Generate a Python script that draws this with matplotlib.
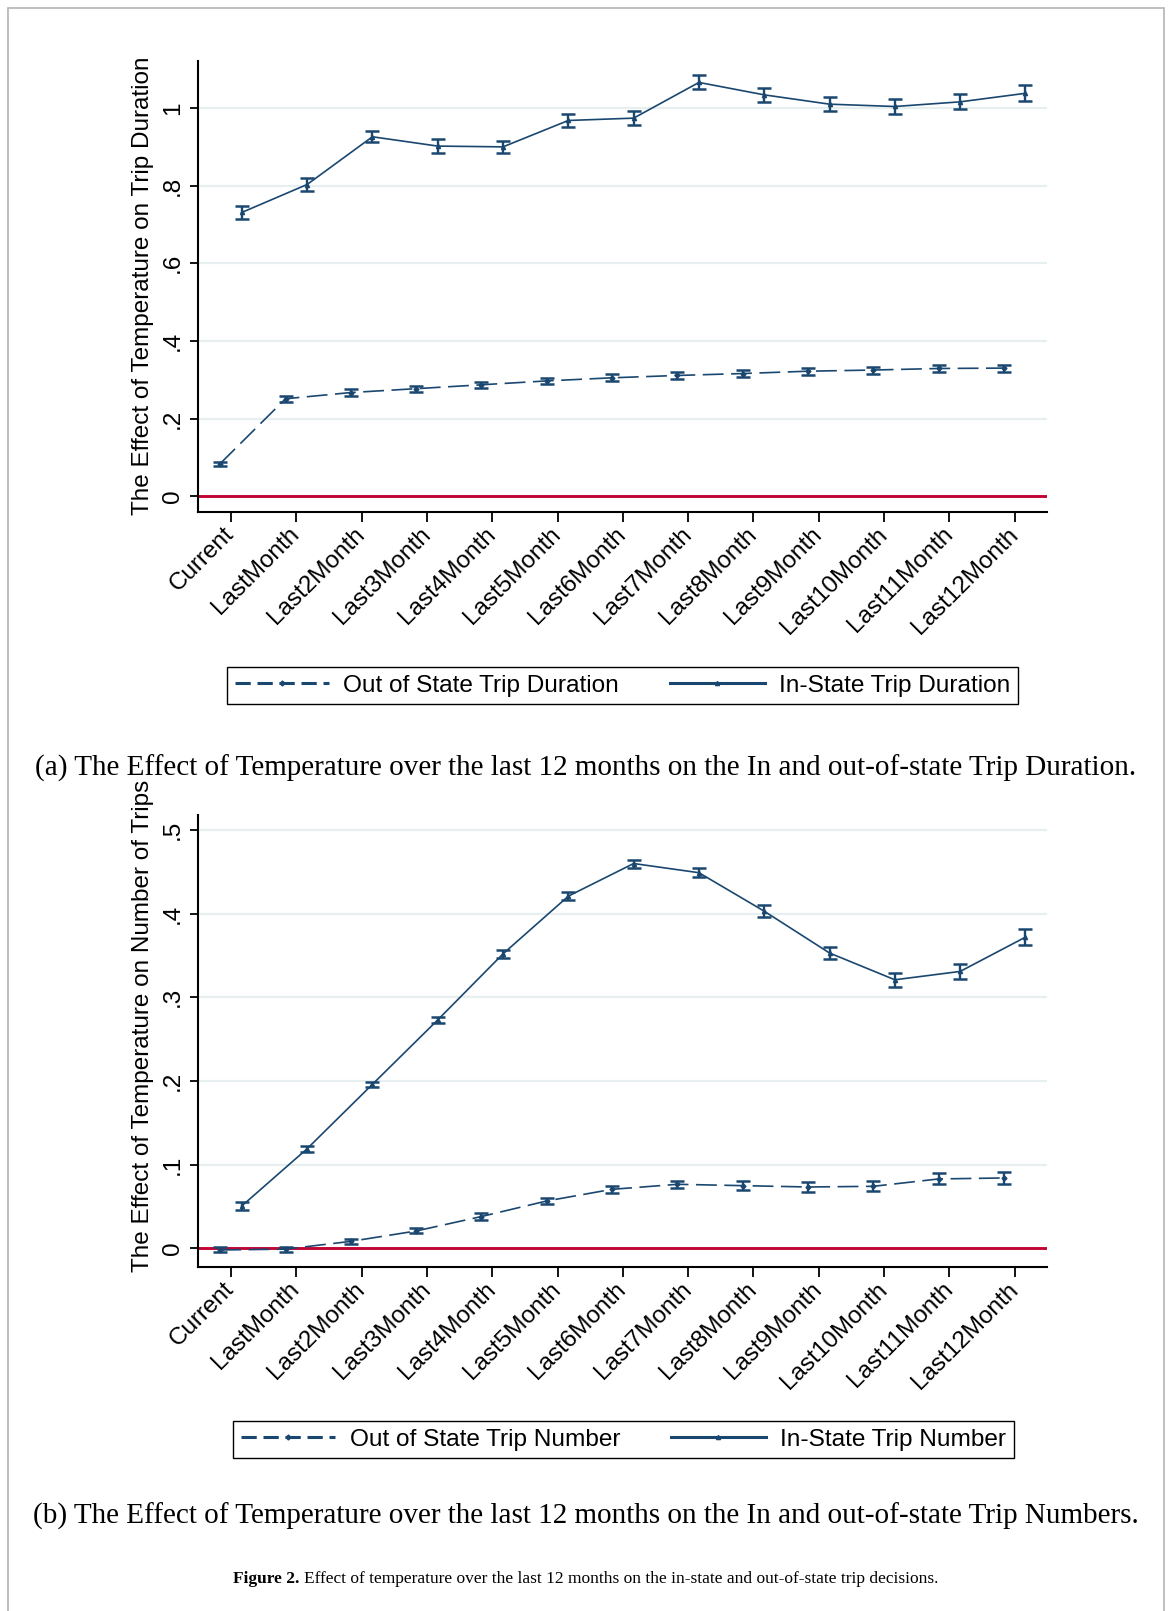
import matplotlib

matplotlib.use("Agg")
import matplotlib.pyplot as plt
import numpy as np
from matplotlib.lines import Line2D
from matplotlib.patches import Rectangle

# Lag labels shared by both panels
periods = [
    "Current", "LastMonth", "Last2Month", "Last3Month", "Last4Month",
    "Last5Month", "Last6Month", "Last7Month", "Last8Month", "Last9Month",
    "Last10Month", "Last11Month", "Last12Month",
]

# Panel (a): trip duration coefficients and CI half-widths
dur_out = [0.084, 0.251, 0.267, 0.277, 0.287, 0.297, 0.305,
           0.311, 0.316, 0.322, 0.325, 0.329, 0.330]
dur_out_ci = [0.005, 0.008, 0.008, 0.008, 0.008, 0.008, 0.0085,
              0.009, 0.009, 0.009, 0.009, 0.009, 0.009]
dur_in = [0.731, 0.803, 0.926, 0.902, 0.900, 0.968, 0.974,
          1.066, 1.034, 1.010, 1.004, 1.016, 1.038]
dur_in_ci = [0.017, 0.016, 0.014, 0.017, 0.015, 0.017, 0.018,
             0.018, 0.018, 0.018, 0.019, 0.019, 0.021]

# Panel (b): number of trips coefficients and CI half-widths
num_out = [-0.002, -0.001, 0.0083, 0.0207, 0.038, 0.0566, 0.0705,
           0.0765, 0.0749, 0.0733, 0.0741, 0.0829, 0.0841]
num_out_ci = [0.003, 0.003, 0.003, 0.003, 0.0038, 0.0038, 0.0044,
              0.004, 0.0052, 0.006, 0.006, 0.0066, 0.0068]
num_in = [0.0506, 0.119, 0.196, 0.273, 0.352, 0.421, 0.460,
          0.449, 0.403, 0.353, 0.321, 0.331, 0.372]
num_in_ci = [0.0045, 0.0036, 0.0034, 0.0038, 0.0044, 0.0048, 0.0048,
             0.0056, 0.007, 0.0076, 0.0084, 0.0094, 0.0094]

navy = "#1a476f"
red = "#c10534"
grid_col = "#e8eff1"
sans = ["Liberation Sans", "DejaVu Sans"]
serif = ["Liberation Serif", "DejaVu Serif"]
axis_fs = 17.5

W, H = 1171, 1611
fig = plt.figure(figsize=(W / 100, H / 100), dpi=100)

# light page border
fig.patches.append(Rectangle((8 / W, -0.01), (1164 - 8) / W, 1.01 - 8 / H,
                             transform=fig.transFigure, fill=False,
                             edgecolor="#b4b4b4", lw=1.2))

x = np.arange(1, len(periods) + 1)
shift = 0.165


def panel(ax, out_v, out_ci, in_v, in_ci, ylim, yticks, ylabel, label_y):
    ax.set_xlim(0.49, 13.49)
    ax.set_ylim(*ylim)
    for t in yticks[1:]:
        ax.axhline(t, color=grid_col, lw=1.6, zorder=0)
    ax.axhline(0, color=red, lw=2.1, zorder=1)
    ax.errorbar(x - shift, out_v, yerr=out_ci, color=navy, lw=1.2,
                ls=(0, (12.5, 4.5)), marker="D", ms=2.5, elinewidth=1.7,
                capsize=4.8, capthick=1.8, zorder=3)
    ax.errorbar(x + shift, in_v, yerr=in_ci, color=navy, lw=1.2,
                ls="-", marker="^", ms=3, elinewidth=1.7,
                capsize=4.8, capthick=1.8, zorder=3)

    for s in ("top", "right"):
        ax.spines[s].set_visible(False)
    for s in ("left", "bottom"):
        ax.spines[s].set_linewidth(1.5)
    ax.tick_params(axis="y", length=6, width=1.3, pad=4)
    ax.tick_params(axis="x", length=7, width=1.3, pad=7)

    ax.set_yticks(yticks)
    ax.set_yticklabels(["0"] + [f"{t:g}".lstrip("0") for t in yticks[1:]],
                       rotation=90, va="center", ha="right",
                       family=sans, fontsize=axis_fs)
    ax.set_xticks(x)
    ax.set_xticklabels(periods, rotation=45, ha="right", va="center",
                       rotation_mode="anchor", family=sans, fontsize=axis_fs)
    ax.set_ylabel(ylabel, family=sans, fontsize=axis_fs, va="center")
    ax.yaxis.set_label_coords(-0.0644, label_y)


ax1 = fig.add_axes([197.7 / W, 1 - 511.7 / H, 849 / W, 451 / H])
panel(ax1, dur_out, dur_out_ci, dur_in, dur_in_ci, (-0.04, 1.122),
      [0, 0.2, 0.4, 0.6, 0.8, 1.0],
      "The Effect of Temperature on Trip Duration", 0.5)

ax2 = fig.add_axes([197.7 / W, 1 - 1266.7 / H, 849 / W, 451.7 / H])
panel(ax2, num_out, num_out_ci, num_in, num_in_ci, (-0.022, 0.518),
      [0, 0.1, 0.2, 0.3, 0.4, 0.5],
      "The Effect of Temperature on Number of Trips", 0.533)


def legend_for(ax, names, cx, cy):
    handles = [
        Line2D([], [], color=navy, lw=2.2, ls=(0, (5, 2.2)), marker="D", ms=2.5),
        Line2D([], [], color=navy, lw=2.2, ls="-", marker="^", ms=3),
    ]
    leg = ax.legend(handles, names, ncol=2, loc="center",
                    bbox_to_anchor=(cx, cy), bbox_transform=fig.transFigure,
                    prop={"family": sans, "size": 17.6}, frameon=True,
                    fancybox=False, edgecolor="black", framealpha=1,
                    handlelength=3.85, handletextpad=0.6, columnspacing=2.1,
                    borderpad=0.3, numpoints=1)
    leg.get_frame().set_linewidth(1.0)


legend_for(ax1, ["Out of State Trip Duration", "In-State Trip Duration"],
           622.5 / W, 1 - 685.5 / H)
legend_for(ax2, ["Out of State Trip Number", "In-State Trip Number"],
           623.5 / W, 1 - 1439.5 / H)

fig.text(0.5, 1 - 768 / H,
         "(a) The Effect of Temperature over the last 12 months on the In and "
         "out-of-state Trip Duration.",
         ha="center", va="center", family=serif, fontsize=21)
fig.text(0.5, 1 - 1516 / H,
         "(b) The Effect of Temperature over the last 12 months on the In and "
         "out-of-state Trip Numbers.",
         ha="center", va="center", family=serif, fontsize=21)

# figure caption: bold lead-in followed by regular text, centred as a whole
cap_y = 1 - 1579 / H
renderer = fig.canvas.get_renderer()
lead = fig.text(0, cap_y, "Figure 2. ", ha="left", va="center",
                family=serif, fontsize=12.5, fontweight="bold")
rest = fig.text(0, cap_y,
                "Effect of temperature over the last 12 months on the in-state "
                "and out-of-state trip decisions.",
                ha="left", va="center", family=serif, fontsize=12.5)
w_lead = lead.get_window_extent(renderer).width / W
w_rest = rest.get_window_extent(renderer).width / W
x0 = 0.5 - (w_lead + w_rest) / 2
lead.set_x(x0)
rest.set_x(x0 + w_lead)

fig.savefig("out.png", dpi=100)
